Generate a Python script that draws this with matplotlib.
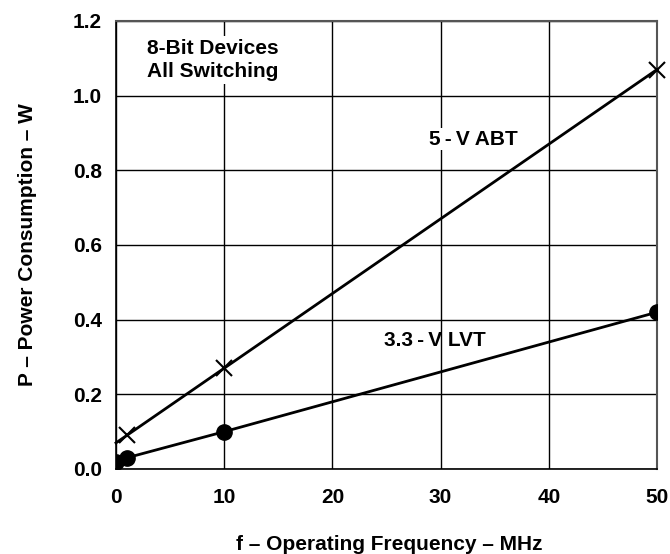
import matplotlib
matplotlib.use("Agg")
import matplotlib.pyplot as plt

freq_abt = [0, 1, 10, 50]
power_abt = [0.07, 0.09, 0.27, 1.07]
freq_lvt = [0, 1, 10, 50]
power_lvt = [0.02, 0.03, 0.10, 0.42]
xticks = [0, 10, 20, 30, 40, 50]
yticks = [0.0, 0.2, 0.4, 0.6, 0.8, 1.0, 1.2]

plt.rcParams['font.family'] = ['Liberation Sans', 'DejaVu Sans']
plt.rcParams['font.weight'] = 'bold'
FS = 15

fig = plt.figure(figsize=(6.7, 5.54), dpi=100)
ax = fig.add_axes([116/670, 1-469/554, (657-116)/670, (469-21)/554])

ax.plot(freq_abt, power_abt, color='black', lw=2, marker='x', ms=11, mew=1.5,
        markevery=[1, 2, 3], clip_on=False, zorder=3)
ax.plot(freq_lvt, power_lvt, color='black', lw=2, marker='o', ms=11, clip_on=True, zorder=3)

ax.set_xlim(0, 50)
ax.set_ylim(0, 1.2)
ax.set_xticks(xticks)
ax.set_yticks(yticks)
ax.set_xticklabels([str(t) for t in xticks], fontsize=FS, fontweight='bold')
ax.set_yticklabels([f"{t:.1f}" for t in yticks], fontsize=FS, fontweight='bold')
ax.tick_params(axis='y', length=0, pad=10)
ax.tick_params(axis='x', length=0, pad=14)
ax.grid(True, color='black', lw=1)
for s in ['left', 'bottom']:
    ax.spines[s].set_color('black')
    ax.spines[s].set_linewidth(1.2)
for s in ['top', 'right']:
    ax.spines[s].set_color('#555555')
    ax.spines[s].set_linewidth(1.5)

ax.text(2.9, 1.153, "8-Bit Devices\nAll Switching", fontsize=FS, fontweight='bold',
        va='top', ha='left', linespacing=1.3,
        bbox=dict(facecolor='white', edgecolor='none', pad=2))
ax.text(28.9, 0.883, "5\u2009-\u2009V ABT", fontsize=FS, fontweight='bold', ha='left', va='center',
        bbox=dict(facecolor='white', edgecolor='none', pad=1))
ax.text(24.8, 0.345, "3.3\u2009-\u2009V LVT", fontsize=FS, fontweight='bold', ha='left', va='center')

fig.text(389/670, 1-544/554, "f \u2013 Operating Frequency \u2013 MHz", fontsize=FS,
         fontweight='bold', ha='center', va='center')
fig.text(28/670, 1-245/554, "P \u2013 Power Consumption \u2013 W", fontsize=FS,
         fontweight='bold', ha='center', va='center', rotation=90)

fig.savefig("out.png", dpi=100)
